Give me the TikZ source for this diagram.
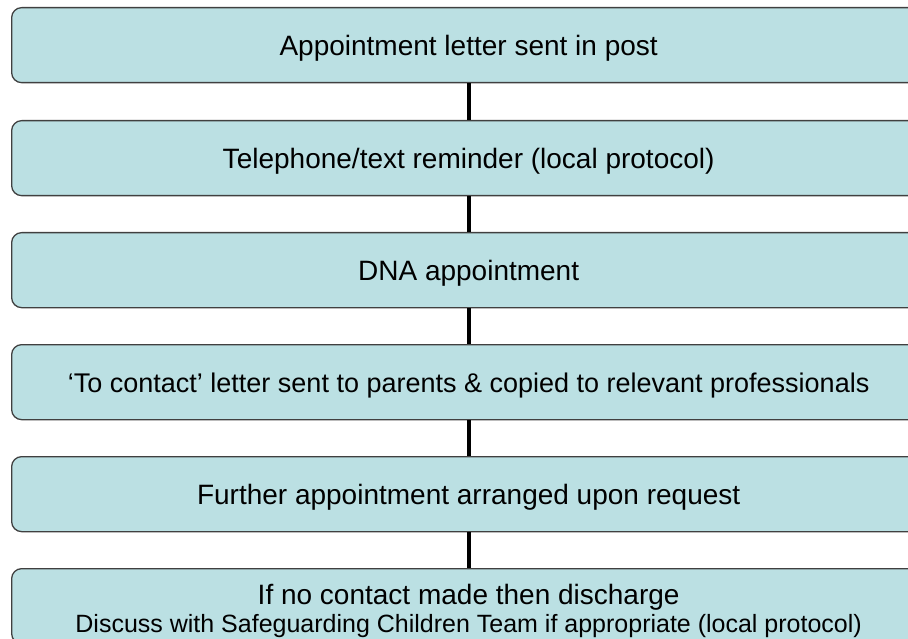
\documentclass[tikz,border=0pt]{standalone}
\usepackage{fontspec}
\setmainfont{Liberation Sans}
\definecolor{boxfill}{RGB}{187,224,227}
\definecolor{boxedge}{RGB}{64,64,64}
\begin{document}
\begin{tikzpicture}[x=1pt,y=-1pt,
  stepbox/.style={draw=boxedge, line width=1.3pt, fill=boxfill,
    rounded corners=10pt, minimum width=914pt, minimum height=75pt,
    anchor=north west, inner sep=0pt, align=center,
    text height=21pt, text depth=-1pt,
    font=\fontsize{28}{34}\selectfont},
  link/.style={line width=4pt, draw=black}]
  \useasboundingbox (0,0) rectangle (908,639);
  \clip (0,0) rectangle (908,639);

  \node[stepbox] (b1) at (11,7)   {Appointment letter sent in post};
  \node[stepbox] (b2) at (11,120) {Telephone/text reminder (local protocol)};
  \node[stepbox] (b3) at (11,232) {DNA appointment};
  \node[stepbox, font=\fontsize{27}{32}\selectfont] (b4) at (11,344)
    {‘To contact’ letter sent to parents \& copied to relevant professionals};
  \node[stepbox] (b5) at (11,456) {Further appointment arranged upon request};
  \node[stepbox] (b6) at (11,568) {};
  \node[align=center, inner sep=0pt, anchor=north] (t6) at ([yshift=-16pt]b6.north)
    {\fontsize{28}{28}\selectfont If no contact made then discharge\\[3pt]
     \fontsize{25}{28}\selectfont Discuss with Safeguarding Children Team if appropriate (local protocol)};

  \draw[link] (b1.south) -- (b2.north);
  \draw[link] (b2.south) -- (b3.north);
  \draw[link] (b3.south) -- (b4.north);
  \draw[link] (b4.south) -- (b5.north);
  \draw[link] (b5.south) -- (b6.north);
\end{tikzpicture}
\end{document}
